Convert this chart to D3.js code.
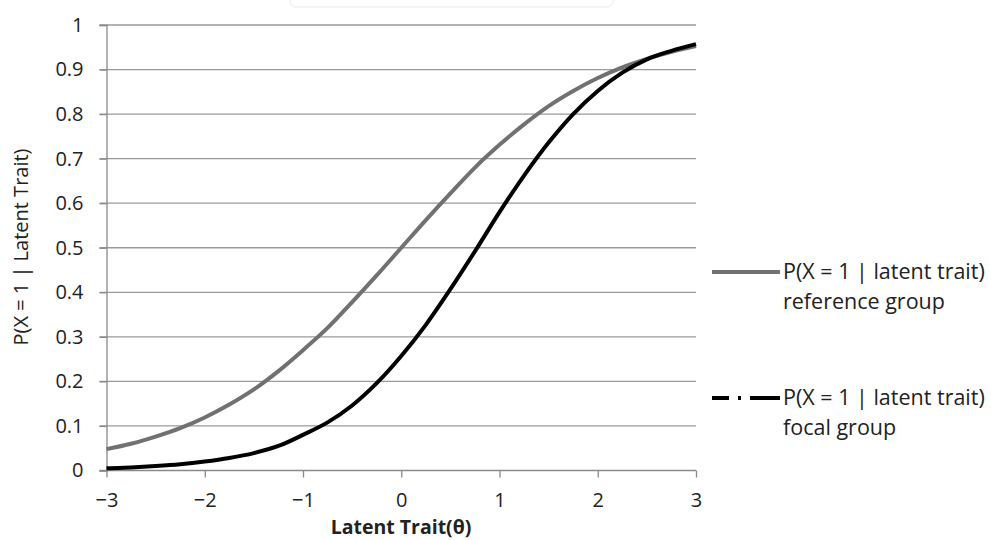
<!DOCTYPE html>
<html>
<head>
<meta charset="utf-8">
<script src="https://cdn.jsdelivr.net/npm/d3@7"></script>
<style>
  html, body { margin: 0; padding: 0; background: #fff; }
  svg { display: block; }
  text { font-family: "Open Sans", "Noto Sans", sans-serif; fill: #222; }
</style>
</head>
<body>
<svg id="chart" width="991" height="540"></svg>
<script>
// Latent trait grid (theta)
const theta = [-3, -2.75, -2.5, -2.25, -2, -1.75, -1.5, -1.25, -1, -0.75, -0.5, -0.25,
               0, 0.25, 0.5, 0.75, 1, 1.25, 1.5, 1.75, 2, 2.25, 2.5, 2.75, 3];

// P(X = 1 | latent trait), reference group
const referenceGroup = [0.048, 0.060, 0.076, 0.095, 0.119, 0.148, 0.182, 0.223, 0.270,
                        0.320, 0.378, 0.438, 0.500, 0.562, 0.622, 0.680, 0.731, 0.777,
                        0.818, 0.852, 0.881, 0.905, 0.924, 0.940, 0.953];

// P(X = 1 | latent trait), focal group
const focalGroup = [0.005, 0.007, 0.010, 0.014, 0.020, 0.028, 0.039, 0.055, 0.080,
                    0.108, 0.146, 0.196, 0.257, 0.327, 0.407, 0.492, 0.580, 0.662,
                    0.736, 0.800, 0.852, 0.893, 0.923, 0.942, 0.957];

const xTicks = [-3, -2, -1, 0, 1, 2, 3];
const xTickLabels = ["\u22123", "\u22122", "\u22121", "0", "1", "2", "3"];
const yTicks = [0, 0.1, 0.2, 0.3, 0.4, 0.5, 0.6, 0.7, 0.8, 0.9, 1];
const yTickLabels = ["0", "0.1", "0.2", "0.3", "0.4", "0.5", "0.6", "0.7", "0.8", "0.9", "1"];

const seriesNames = [
  ["P(X = 1 | latent trait)", "reference group"],
  ["P(X = 1 | latent trait)", "focal group"]
];

const svg = d3.select("#chart");
const plot = { left: 106.5, right: 696, top: 25, bottom: 470.5 };

const x = d3.scaleLinear().domain([-3, 3]).range([plot.left, plot.right]);
const y = d3.scaleLinear().domain([0, 1]).range([plot.bottom, plot.top]);

// faint frame fragment along the top edge
svg.append("rect")
  .attr("x", 290).attr("y", -12).attr("width", 323).attr("height", 19)
  .attr("rx", 6)
  .attr("fill", "none").attr("stroke", "#f1f1f1").attr("stroke-width", 1.5);

// horizontal gridlines (with left tick stubs)
svg.append("g")
  .selectAll("line")
  .data(yTicks.slice(1))
  .join("line")
  .attr("x1", plot.left - 7).attr("x2", plot.right)
  .attr("y1", d => y(d)).attr("y2", d => y(d))
  .attr("stroke", "#9a9a9a").attr("stroke-width", 1.3);

// y axis
const yAxis = svg.append("g")
  .attr("transform", `translate(${plot.left},0)`)
  .call(d3.axisLeft(y).tickValues(yTicks)
    .tickFormat((d, i) => yTickLabels[i]).tickSize(7).tickPadding(16));
yAxis.attr("font-family", null).attr("font-size", null);
yAxis.select(".domain").attr("stroke", "#8a8a8a").attr("stroke-width", 1.3);
yAxis.selectAll(".tick line").attr("stroke", "#8a8a8a").attr("stroke-width", 1.3);
yAxis.selectAll(".tick text")
  .style("font-size", "20px").attr("fill", "#222");

// x axis
const xAxis = svg.append("g")
  .attr("transform", `translate(0,${plot.bottom})`)
  .call(d3.axisBottom(x).tickValues(xTicks)
    .tickFormat((d, i) => xTickLabels[i]).tickSizeInner(7).tickSizeOuter(0).tickPadding(15));
xAxis.attr("font-family", null).attr("font-size", null);
xAxis.select(".domain").attr("stroke", "#8a8a8a").attr("stroke-width", 1.3)
  .attr("d", `M${plot.left - 7},0H${plot.right}`);
xAxis.selectAll(".tick line").attr("stroke", "#8a8a8a").attr("stroke-width", 1.3);
xAxis.selectAll(".tick text")
  .style("font-size", "20px").attr("fill", "#222");

// axis titles
svg.append("text")
  .attr("x", 401).attr("y", 534)
  .attr("text-anchor", "middle")
  .style("font-size", "19.5px").attr("font-weight", "bold")
  .text("Latent Trait(\u03B8)");

svg.append("text")
  .attr("transform", "translate(28,247) rotate(-90)")
  .attr("text-anchor", "middle")
  .style("font-size", "20px")
  .text("P(X = 1 | Latent Trait)");

// curves
const line = d3.line()
  .x((d, i) => x(theta[i]))
  .y(d => y(d))
  .curve(d3.curveMonotoneX);

svg.append("path")
  .datum(referenceGroup)
  .attr("d", line)
  .attr("fill", "none").attr("stroke", "#717171").attr("stroke-width", 4)
  .attr("stroke-linejoin", "round");

svg.append("path")
  .datum(focalGroup)
  .attr("d", line)
  .attr("fill", "none").attr("stroke", "#000").attr("stroke-width", 4)
  .attr("stroke-linejoin", "round");

// legend
const legend = svg.append("g");
const legendRows = [
  { y: 272, stroke: "#717171", dash: null },
  { y: 398, stroke: "#000", dash: "17,9,3,9,30" }
];
legendRows.forEach((r, i) => {
  legend.append("line")
    .attr("x1", 712).attr("x2", 780)
    .attr("y1", r.y).attr("y2", r.y)
    .attr("stroke", r.stroke).attr("stroke-width", 4)
    .attr("stroke-dasharray", r.dash);
  legend.append("text")
    .attr("x", 783).attr("y", r.y + 7)
    .style("font-size", "21.5px")
    .text(seriesNames[i][0]);
  legend.append("text")
    .attr("x", 783).attr("y", r.y + 37)
    .style("font-size", "21.5px")
    .text(seriesNames[i][1]);
});
</script>
</body>
</html>
